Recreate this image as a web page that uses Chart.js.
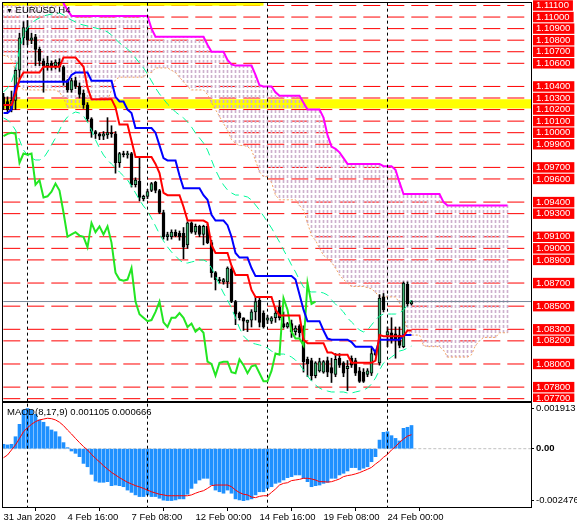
<!DOCTYPE html>
<html>
<head>
<meta charset="utf-8">
<script src="https://cdn.jsdelivr.net/npm/chart.js@4.4.1/dist/chart.umd.min.js"></script>
<style>
  body { margin: 0; background: #fff; width: 577px; height: 529px; overflow: hidden; position: relative;
         font-family: 'Liberation Sans', Arial, sans-serif; }
  canvas { position: absolute; left: 0; }
  #mainChart { top: 0; }
  #macdChart { top: 401px; }
  .lbl { position: absolute; font-size: 9.5px; line-height: 11px; color: #000; white-space: nowrap; }
</style>
</head>
<body>
<canvas id="mainChart" width="577" height="402"></canvas>
<canvas id="macdChart" width="577" height="128"></canvas>
<div class="lbl" style="left:6px;top:3.5px"><span style="font-size:7px">&#9660;</span>&nbsp;EURUSD,H4</div>
<div class="lbl" style="left:7px;top:406px">MACD(8,17,9) 0.001105 0.000666</div>
<script>
// H4 bars, 31 Jan 2020 00:00 .. 24 Feb 2020 (bar index = x)
const opens = [
  1.1031, 1.1027, 1.1020, 1.1028, 1.1054, 1.1082, 1.1091, 1.1080, 1.1083, 1.1072,
  1.1062, 1.1058, 1.1060, 1.1058, 1.1061, 1.1057, 1.1045, 1.1037, 1.1045, 1.1040,
  1.1034, 1.1024, 1.1012, 1.1001, 1.0999, 1.0997, 1.0998, 1.1000, 1.0999, 1.0974,
  1.0982, 1.0981, 1.0982, 1.0955, 1.0958, 1.0943, 1.0945, 1.0950, 1.0957, 1.0950,
  1.0931, 1.0910, 1.0910, 1.0914, 1.0913, 1.0913, 1.0903, 1.0922, 1.0914, 1.0919,
  1.0912, 1.0919, 1.0905, 1.0879, 1.0873, 1.0871, 1.0871, 1.0882, 1.0854, 1.0844,
  1.0840, 1.0836, 1.0838, 1.0845, 1.0855, 1.0844, 1.0838, 1.0837, 1.0840, 1.0849,
  1.0835, 1.0832, 1.0835, 1.0828, 1.0833, 1.0827, 1.0804, 1.0803, 1.0790, 1.0794,
  1.0793, 1.0803, 1.0797, 1.0791, 1.0805, 1.0801, 1.0796, 1.0805, 1.0803, 1.0794,
  1.0793, 1.0791, 1.0792, 1.0810, 1.0801, 1.0858, 1.0825, 1.0827, 1.0826, 1.0825,
  1.0815, 1.0869, 1.0852
];
const highs = [
  1.1034, 1.1031, 1.1036, 1.1056, 1.1086, 1.1096, 1.1097, 1.1086, 1.1085, 1.1074,
  1.1064, 1.1066, 1.1062, 1.1063, 1.1064, 1.1058, 1.1046, 1.1047, 1.1048, 1.1043,
  1.1037, 1.1026, 1.1013, 1.1002, 1.1000, 1.1001, 1.1013, 1.1006, 1.1001, 1.0983,
  1.0984, 1.0984, 1.0983, 1.0961, 1.0979, 1.0946, 1.0951, 1.0957, 1.0958, 1.0951,
  1.0933, 1.0914, 1.0916, 1.0916, 1.0915, 1.0918, 1.0923, 1.0923, 1.0921, 1.0920,
  1.0920, 1.0921, 1.0907, 1.0880, 1.0875, 1.0874, 1.0884, 1.0884, 1.0855, 1.0845,
  1.0840, 1.0838, 1.0847, 1.0858, 1.0857, 1.0846, 1.0842, 1.0841, 1.0849, 1.0855,
  1.0845, 1.0836, 1.0838, 1.0833, 1.0834, 1.0833, 1.0806, 1.0805, 1.0802, 1.0805,
  1.0803, 1.0806, 1.0805, 1.0809, 1.0809, 1.0802, 1.0803, 1.0807, 1.0805, 1.0797,
  1.0796, 1.0796, 1.0814, 1.0812, 1.0860, 1.0861, 1.0832, 1.0840, 1.0832, 1.0832,
  1.0871, 1.0871, 1.0855
];
const lows = [
  1.1020, 1.1018, 1.1018, 1.1020, 1.1046, 1.1076, 1.1076, 1.1077, 1.1058, 1.1058,
  1.1035, 1.1054, 1.1054, 1.1055, 1.1053, 1.1041, 1.1035, 1.1035, 1.1038, 1.1030,
  1.1021, 1.1010, 1.0996, 1.0995, 1.0994, 1.0994, 1.0995, 1.0996, 1.0965, 1.0970,
  1.0979, 1.0978, 1.0953, 1.0953, 1.0941, 1.0941, 1.0943, 1.0949, 1.0948, 1.0930,
  1.0908, 1.0907, 1.0908, 1.0910, 1.0907, 1.0891, 1.0900, 1.0913, 1.0912, 1.0910,
  1.0903, 1.0904, 1.0875, 1.0864, 1.0870, 1.0869, 1.0866, 1.0853, 1.0834, 1.0838,
  1.0829, 1.0828, 1.0832, 1.0838, 1.0832, 1.0831, 1.0835, 1.0835, 1.0836, 1.0838,
  1.0831, 1.0831, 1.0823, 1.0825, 1.0823, 1.0793, 1.0789, 1.0786, 1.0788, 1.0793,
  1.0792, 1.0789, 1.0784, 1.0789, 1.0797, 1.0789, 1.0777, 1.0797, 1.0790, 1.0784,
  1.0784, 1.0789, 1.0790, 1.0807, 1.0799, 1.0845, 1.0815, 1.0818, 1.0805, 1.0814,
  1.0814, 1.0850, 1.0851
];
const closes = [
  1.1024, 1.1020, 1.1028, 1.1054, 1.1082, 1.1091, 1.1080, 1.1082, 1.1072, 1.1062,
  1.1058, 1.1060, 1.1058, 1.1061, 1.1057, 1.1044, 1.1037, 1.1045, 1.1040, 1.1033,
  1.1024, 1.1012, 1.1001, 1.0999, 1.0997, 1.0999, 1.1000, 1.0999, 1.0974, 1.0982,
  1.0981, 1.0982, 1.0955, 1.0959, 1.0944, 1.0945, 1.0949, 1.0956, 1.0950, 1.0931,
  1.0910, 1.0912, 1.0914, 1.0911, 1.0910, 1.0901, 1.0922, 1.0914, 1.0919, 1.0912,
  1.0919, 1.0905, 1.0879, 1.0873, 1.0872, 1.0873, 1.0883, 1.0854, 1.0843, 1.0840,
  1.0837, 1.0838, 1.0845, 1.0854, 1.0836, 1.0832, 1.0840, 1.0840, 1.0844, 1.0840,
  1.0832, 1.0835, 1.0828, 1.0831, 1.0827, 1.0802, 1.0800, 1.0790, 1.0801, 1.0802,
  1.0802, 1.0793, 1.0792, 1.0804, 1.0799, 1.0792, 1.0798, 1.0799, 1.0792, 1.0785,
  1.0785, 1.0794, 1.0809, 1.0808, 1.0857, 1.0847, 1.0828, 1.0822, 1.0822, 1.0816,
  1.0870, 1.0852, 1.0854
];

// Ichimoku
const tenkan = [
  1.1024, 1.1024, 1.1024, 1.1034, 1.1046, 1.1052, 1.1052, 1.1052, 1.1052, 1.1052,
  1.1057, 1.1057, 1.1057, 1.1057, 1.1057, 1.1065, 1.1065, 1.1065, 1.1065, 1.1061,
  1.1057, 1.1039, 1.1029, 1.1029, 1.1029, 1.1029, 1.1029, 1.1029, 1.1022, 1.1007,
  1.1007, 1.1007, 1.0993, 1.0979, 1.0979, 1.0979, 1.0979, 1.0979, 1.0973, 1.0965,
  1.0948, 1.0946, 1.0946, 1.0946, 1.0946, 1.0936, 1.0924, 1.0924, 1.0924, 1.0924,
  1.0924, 1.0922, 1.0903, 1.0896, 1.0896, 1.0896, 1.0896, 1.0885, 1.0877, 1.0877,
  1.0877, 1.0877, 1.0864, 1.0858, 1.0858, 1.0858, 1.0858, 1.0858, 1.0847, 1.0842,
  1.0842, 1.0842, 1.0842, 1.0842, 1.0842, 1.0821, 1.0818, 1.0818, 1.0818, 1.0818,
  1.0818, 1.0810, 1.0810, 1.0808, 1.0808, 1.0808, 1.0808, 1.0801, 1.0801, 1.0801,
  1.0801, 1.0801, 1.0801, 1.0803, 1.0825, 1.0824, 1.0824, 1.0824, 1.0824, 1.0824,
  1.0824, 1.0829, 1.0829
];
const kijun = [
  1.1017, 1.1017, 1.1020, 1.1040, 1.1044, 1.1044, 1.1044, 1.1044, 1.1044, 1.1044,
  1.1044, 1.1044, 1.1044, 1.1044, 1.1044, 1.1044, 1.1044, 1.1050, 1.1052, 1.1052,
  1.1052, 1.1052, 1.1045, 1.1045, 1.1045, 1.1045, 1.1045, 1.1045, 1.1031, 1.1027,
  1.1027, 1.1020, 1.1017, 1.1004, 1.1004, 1.1004, 1.1004, 1.1004, 1.1000, 1.0989,
  1.0978, 1.0976, 1.0976, 1.0976, 1.0963, 1.0952, 1.0952, 1.0952, 1.0952, 1.0952,
  1.0946, 1.0942, 1.0929, 1.0924, 1.0924, 1.0924, 1.0920, 1.0910, 1.0896, 1.0892,
  1.0892, 1.0892, 1.0883, 1.0876, 1.0876, 1.0876, 1.0876, 1.0876, 1.0876, 1.0876,
  1.0876, 1.0876, 1.0876, 1.0873, 1.0860, 1.0847, 1.0837, 1.0837, 1.0837, 1.0837,
  1.0829, 1.0822, 1.0821, 1.0821, 1.0821, 1.0821, 1.0821, 1.0819, 1.0815, 1.0815,
  1.0815, 1.0815, 1.0815, 1.0810, 1.0821, 1.0821, 1.0821, 1.0821, 1.0821, 1.0821,
  1.0825, 1.0825, 1.0825
];
// cloud runs 24 bars past the last candle
const spanA = [
  1.1067, 1.1066, 1.1063, 1.1054, 1.1041, 1.1037, 1.1037, 1.1037, 1.1037, 1.1037,
  1.1037, 1.1037, 1.1037, 1.1037, 1.1035, 1.1030, 1.1022, 1.1022, 1.1022, 1.1022,
  1.1022, 1.1028, 1.1028, 1.1028, 1.1028, 1.1028, 1.1028, 1.1037, 1.1046, 1.1048,
  1.1048, 1.1048, 1.1048, 1.1048, 1.1048, 1.1048, 1.1052, 1.1052, 1.1056, 1.1056,
  1.1056, 1.1056, 1.1054, 1.1052, 1.1048, 1.1044, 1.1040, 1.1037, 1.1037, 1.1037,
  1.1037, 1.1033, 1.1026, 1.1020, 1.1014, 1.1008, 1.1002, 1.0994, 1.0991, 1.0989,
  1.0989, 1.0988, 1.0985, 1.0976, 1.0966, 1.0962, 1.0962, 1.0957, 1.0946, 1.0942,
  1.0942, 1.0942, 1.0942, 1.0942, 1.0937, 1.0933, 1.0922, 1.0911, 1.0907, 1.0900,
  1.0894, 1.0891, 1.0888, 1.0883, 1.0877, 1.0873, 1.0870, 1.0867, 1.0867, 1.0867,
  1.0867, 1.0866, 1.0865, 1.0862, 1.0858, 1.0858, 1.0858, 1.0858, 1.0858, 1.0853,
  1.0842, 1.0829, 1.0825, 1.0825, 1.0825, 1.0816, 1.0815, 1.0815, 1.0815, 1.0815,
  1.0812, 1.0806, 1.0806, 1.0806, 1.0806, 1.0806, 1.0806, 1.0808, 1.0816, 1.0820,
  1.0823, 1.0823, 1.0823, 1.0823, 1.0827, 1.0827, 1.0827
];
const spanB = [
  1.1130, 1.1130, 1.1130, 1.1130, 1.1130, 1.1130, 1.1130, 1.1130, 1.1130, 1.1130,
  1.1130, 1.1130, 1.1130, 1.1130, 1.1130, 1.1112, 1.1106, 1.1101, 1.1101, 1.1101,
  1.1101, 1.1101, 1.1101, 1.1101, 1.1101, 1.1101, 1.1101, 1.1101, 1.1101, 1.1101,
  1.1101, 1.1101, 1.1101, 1.1101, 1.1101, 1.1101, 1.1101, 1.1090, 1.1083, 1.1083,
  1.1083, 1.1083, 1.1083, 1.1083, 1.1083, 1.1083, 1.1083, 1.1083, 1.1083, 1.1083,
  1.1083, 1.1076, 1.1070, 1.1070, 1.1070, 1.1070, 1.1063, 1.1059, 1.1058, 1.1058,
  1.1058, 1.1058, 1.1058, 1.1050, 1.1041, 1.1040, 1.1040, 1.1040, 1.1035, 1.1032,
  1.1032, 1.1032, 1.1032, 1.1032, 1.1032, 1.1026, 1.1020, 1.1020, 1.1020, 1.1020,
  1.1013, 1.0998, 1.0988, 1.0986, 1.0983, 1.0978, 1.0973, 1.0973, 1.0973, 1.0973,
  1.0973, 1.0973, 1.0973, 1.0973, 1.0973, 1.0971, 1.0971, 1.0971, 1.0968, 1.0957,
  1.0947, 1.0947, 1.0947, 1.0947, 1.0947, 1.0947, 1.0947, 1.0947, 1.0947, 1.0947,
  1.0940, 1.0937, 1.0937, 1.0937, 1.0937, 1.0937, 1.0937, 1.0937, 1.0937, 1.0937,
  1.0937, 1.0937, 1.0937, 1.0937, 1.0937, 1.0937, 1.0937
];
const chikouShift = 24; // lagging line = close drawn 24 bars back

// Bollinger bands
const bandUpper = [
  1.10352, 1.10387, 1.10438, 1.10542, 1.10715, 1.10845, 1.10905, 1.10940, 1.10975, 1.10992,
  1.11009, 1.11018, 1.11026, 1.11026, 1.11035, 1.11018, 1.10992, 1.10975, 1.10957, 1.10940,
  1.10931, 1.10923, 1.10914, 1.10905, 1.10897, 1.10888, 1.10871, 1.10845, 1.10810, 1.10776,
  1.10750, 1.10724, 1.10689, 1.10646, 1.10603, 1.10560, 1.10508, 1.10447, 1.10387, 1.10335,
  1.10291, 1.10248, 1.10214, 1.10179, 1.10153, 1.10127, 1.10093, 1.10049, 1.09997, 1.09954,
  1.09911, 1.09850, 1.09764, 1.09677, 1.09608, 1.09548, 1.09505, 1.09479, 1.09461, 1.09461,
  1.09453, 1.09444, 1.09418, 1.09375, 1.09332, 1.09280, 1.09228, 1.09176, 1.09115, 1.09055,
  1.08986, 1.08925, 1.08856, 1.08796, 1.08726, 1.08666, 1.08631, 1.08623, 1.08623, 1.08623,
  1.08614, 1.08597, 1.08553, 1.08519, 1.08484, 1.08450, 1.08398, 1.08363, 1.08329, 1.08294,
  1.08277, 1.08294, 1.08337, 1.08380, 1.08415, 1.08432, 1.08432, 1.08432, 1.08432, 1.08441,
  1.08467, 1.08510, 1.08553
];
const bandLower = [
  1.10127, 1.10110, 1.10075, 1.10023, 1.09937, 1.09850, 1.09807, 1.09781, 1.09764, 1.09764,
  1.09781, 1.09833, 1.09894, 1.09954, 1.10023, 1.10093, 1.10136, 1.10162, 1.10179, 1.10170,
  1.10144, 1.10093, 1.10023, 1.09937, 1.09868, 1.09807, 1.09764, 1.09729, 1.09695, 1.09660,
  1.09626, 1.09591, 1.09539, 1.09479, 1.09418, 1.09366, 1.09323, 1.09262, 1.09193, 1.09124,
  1.09064, 1.09012, 1.08968, 1.08934, 1.08899, 1.08873, 1.08873, 1.08882, 1.08891, 1.08899,
  1.08899, 1.08882, 1.08830, 1.08761, 1.08683, 1.08614, 1.08553, 1.08484, 1.08398, 1.08311,
  1.08242, 1.08207, 1.08181, 1.08173, 1.08164, 1.08155, 1.08138, 1.08112, 1.08095, 1.08086,
  1.08086, 1.08078, 1.08060, 1.08034, 1.07999, 1.07948, 1.07896, 1.07853, 1.07818, 1.07792,
  1.07775, 1.07766, 1.07758, 1.07758, 1.07758, 1.07758, 1.07749, 1.07749, 1.07758, 1.07766,
  1.07775, 1.07792, 1.07827, 1.07879, 1.07948, 1.08008, 1.08034, 1.08060, 1.08086, 1.08112,
  1.08121, 1.08138, 1.08155
];

// MACD(8,17,9)
const macdMain = [
  0.00021, 0.00018, 0.00021, 0.00057, 0.00116, 0.00184, 0.001913, 0.00184, 0.00164, 0.00137,
  0.00126, 0.00105, 0.00089, 0.00081, 0.00057, 0.00029, 0.00005, -0.00011, -0.00022, -0.00038,
  -0.0007, -0.00086, -0.00122, -0.00154, -0.0016, -0.0016, -0.00157, -0.00176, -0.00173, -0.00176,
  -0.00181, -0.00197, -0.00208, -0.0022, -0.00228, -0.00228, -0.0022, -0.00228, -0.00228, -0.00236,
  -0.00245, -0.00247, -0.00247, -0.00244, -0.00239, -0.00239, -0.00217, -0.00189, -0.00165, -0.00149,
  -0.00141, -0.00141, -0.00173, -0.00197, -0.00205, -0.00212, -0.00197, -0.00212, -0.00239, -0.00244,
  -0.002476, -0.00244, -0.00239, -0.0022, -0.00205, -0.00205, -0.00189, -0.00181, -0.00165, -0.0016,
  -0.00149, -0.00138, -0.00133, -0.00125, -0.00125, -0.00141, -0.00157, -0.00181, -0.00176, -0.00173,
  -0.00165, -0.0016, -0.00141, -0.00141, -0.00125, -0.00117, -0.00106, -0.0009, -0.0009, -0.00101,
  -0.00093, -0.00086, -0.00062, -0.00038, 0.00041, 0.00078, 0.00081, 0.00062, 0.00049, 0.00037,
  0.00097, 0.00102, 0.001105
];
const macdSignal = [
  -0.00043, -0.0003, -0.00006, 0.00018, 0.00049, 0.00081, 0.001, 0.00116, 0.00129, 0.00137,
  0.00141, 0.00145, 0.00143, 0.00137, 0.00126, 0.0011, 0.00089, 0.0007, 0.00049, 0.00029,
  0.0001, -0.00006, -0.00027, -0.00046, -0.00063, -0.00081, -0.00097, -0.00113, -0.00125, -0.00138,
  -0.00149, -0.0016, -0.00168, -0.00176, -0.00182, -0.00189, -0.00197, -0.00205, -0.00211, -0.00217,
  -0.0022, -0.00224, -0.00224, -0.00224, -0.00224, -0.00224, -0.00224, -0.0022, -0.00212, -0.00205,
  -0.002, -0.00189, -0.00176, -0.00173, -0.00173, -0.00173, -0.00173, -0.00181, -0.00197, -0.00209,
  -0.00217, -0.0022, -0.0023, -0.00233, -0.00227, -0.00224, -0.00224, -0.00208, -0.00192, -0.00173,
  -0.00165, -0.00162, -0.00152, -0.00149, -0.00146, -0.00141, -0.00141, -0.00144, -0.00149, -0.00157,
  -0.00157, -0.00159, -0.00157, -0.00151, -0.00144, -0.00133, -0.00128, -0.00125, -0.0012, -0.00114,
  -0.00106, -0.00098, -0.00089, -0.00073, -0.00059, -0.00041, -0.00027, -0.00006, 0.0001, 0.0003,
  0.00046, 0.0006, 0.000666
];

// horizontal levels drawn on the chart, also the labelled prices on the right
const priceLevels = [
  1.1110, 1.1100, 1.1090, 1.1080, 1.1070, 1.1060, 1.1040, 1.1030, 1.1020, 1.1010,
  1.1000, 1.0990, 1.0970, 1.0960, 1.0940, 1.0930, 1.0910, 1.0900, 1.0890, 1.0870,
  1.0850, 1.0830, 1.0820, 1.0800, 1.0780, 1.0770
];
const bandZone = [1.1021, 1.1029];          // yellow zone
const topLine = { level: 1.1111, toBar: 65 }; // yellow line at the top
const separatorBars = [6, 36, 66, 96];
const xTickBars = [0, 16, 32, 48, 64, 80, 96];
const xTickLabels = ['31 Jan 2020', '4 Feb 16:00', '7 Feb 08:00', '12 Feb 00:00',
                     '14 Feb 16:00', '19 Feb 08:00', '24 Feb 00:00'];
const macdTicks = [0.001913, 0, -0.002476];
const macdTickLabels = ['0.001913', '0.00', '-0.002476'];

const FONT = "'Liberation Sans', Arial, sans-serif";
Chart.defaults.font.family = FONT;
Chart.defaults.font.size = 9.5;
Chart.defaults.color = '#000';

const X_MIN = -0.125, X_MAX = 131.875; // 4 px per bar
const LEFT = -0.05, RIGHT = 140;

const pts = (arr, start = 0) => arr.map((v, i) => ({ x: i + start, y: v }));
const hline = (y) => [{ x: LEFT, y }, { x: RIGHT, y }];

function lineSet(data, color, width, dash, order, extra) {
  return Object.assign({
    type: 'line', data, borderColor: color, borderWidth: width,
    borderDash: dash || [], pointRadius: 0, tension: 0, fill: false, order
  }, extra || {});
}

// frame around plot area
const framePlugin = {
  id: 'frame',
  afterDraw(chart) {
    const { ctx, chartArea: a } = chart;
    ctx.save();
    ctx.strokeStyle = '#000';
    ctx.lineWidth = 1;
    ctx.strokeRect(a.left - 0.5, a.top - 0.5, a.right - a.left + 1, a.bottom - a.top + 1);
    ctx.restore();
  }
};

function fitRight(axis) {
  axis.width = 46;
  axis.paddingTop = 0;
  axis.paddingBottom = 0;
}

// dotted hatch for the cloud
const mainCtx = document.getElementById('mainChart').getContext('2d');
const hatchCanvas = document.createElement('canvas');
hatchCanvas.width = 1; hatchCanvas.height = 5;
const hg = hatchCanvas.getContext('2d');
hg.fillStyle = '#cdb0cd';
hg.fillRect(0, 0, 1, 3);
const hatch = mainCtx.createPattern(hatchCanvas, 'repeat');

const lastClose = closes[closes.length - 1];

const mainDatasets = [];
priceLevels.forEach(v => mainDatasets.push(lineSet(hline(v), '#ff0000', 1, [17, 7], 100)));
mainDatasets.push(lineSet(hline(bandZone[1]), 'rgba(0,0,0,0)', 0, null, 95,
  { fill: { value: bandZone[0] }, backgroundColor: '#ffff00' }));
mainDatasets.push(lineSet([{ x: -1, y: topLine.level }, { x: topLine.toBar, y: topLine.level }],
  '#ffff00', 3, null, 94));
mainDatasets.push({
  type: 'bar', data: spanA.map((a, i) => ({ x: i, y: [a, spanB[i]] })),
  backgroundColor: hatch, barThickness: 1, grouped: false, order: 90
});
mainDatasets.push(lineSet(pts(spanA), '#f4a460', 1, [2, 2], 85));
mainDatasets.push(lineSet(pts(spanB), '#ff00ff', 2, null, 84));
separatorBars.forEach(b => mainDatasets.push(
  lineSet([{ x: b, y: 1.07 }, { x: b, y: 1.12 }], '#000', 1, [3, 3], 80)));
mainDatasets.push(lineSet(hline(lastClose), '#778899', 1, null, 78));
mainDatasets.push({
  type: 'bar', data: highs.map((h, i) => ({ x: i, y: [lows[i], h] })),
  backgroundColor: '#000', barThickness: 1, grouped: false, order: 70
});
mainDatasets.push({
  type: 'bar', data: opens.map((o, i) => ({ x: i, y: [o, closes[i]] })),
  backgroundColor: opens.map((o, i) => closes[i] >= o ? '#3cb371' : '#000'),
  borderColor: '#000', borderWidth: 1, borderSkipped: false, minBarLength: 1,
  barThickness: 3, grouped: false, order: 69
});
mainDatasets.push(lineSet(pts(bandUpper), '#00fa9a', 1, [8, 5], 60));
mainDatasets.push(lineSet(pts(bandLower), '#00fa9a', 1, [8, 5], 60));
mainDatasets.push(lineSet(pts(closes.slice(chikouShift)), '#22e622', 2, null, 50));
mainDatasets.push(lineSet(pts(kijun), '#0000ff', 2, null, 45));
mainDatasets.push(lineSet(pts(tenkan), '#ff0000', 2, null, 44));

new Chart(mainCtx, {
  type: 'line',
  data: { datasets: mainDatasets },
  plugins: [framePlugin],
  options: {
    responsive: false, animation: false, events: [],
    layout: { padding: { left: 3, top: 3, right: 0, bottom: 1 } },
    plugins: { legend: { display: false }, tooltip: { enabled: false } },
    scales: {
      x: { type: 'linear', min: X_MIN, max: X_MAX, offset: false, display: false },
      y: {
        type: 'linear', position: 'right', min: 1.07680, max: 1.111215,
        grid: { display: false, drawTicks: false, tickLength: 0 }, border: { display: false },
        afterFit: fitRight,
        afterBuildTicks: (axis) => { axis.ticks = priceLevels.map(v => ({ value: v })); },
        ticks: {
          autoSkip: false, padding: 5, color: '#fff',
          font: { family: FONT, size: 9.5, lineHeight: 1.1 },
          showLabelBackdrop: true, backdropColor: '#ff0000',
          backdropPadding: { top: 0, bottom: 0, left: 3, right: 4 },
          callback: (v) => v.toFixed(5)
        }
      }
    }
  }
});

const macdDatasets = [
  lineSet(hline(0), '#c0c0c0', 1, [3, 2], 40),
  {
    type: 'bar', data: pts(macdMain), backgroundColor: '#1e90ff',
    barThickness: 3, grouped: false, order: 30
  }
];
separatorBars.forEach(b => macdDatasets.push(
  lineSet([{ x: b, y: -0.01 }, { x: b, y: 0.01 }], '#000', 1, [3, 3], 20)));
macdDatasets.push(lineSet(pts(macdSignal), '#ff0000', 1, null, 10));

new Chart(document.getElementById('macdChart'), {
  type: 'line',
  data: { datasets: macdDatasets },
  plugins: [framePlugin],
  options: {
    responsive: false, animation: false, events: [],
    layout: { padding: { left: 3, top: 2, right: 0, bottom: 0 } },
    plugins: { legend: { display: false }, tooltip: { enabled: false } },
    scales: {
      x: {
        type: 'linear', min: X_MIN, max: X_MAX, offset: false,
        border: { display: false },
        grid: { display: true, drawOnChartArea: false, drawTicks: true, tickLength: 4, color: '#000' },
        afterFit: (axis) => { axis.height = 22; axis.paddingLeft = 0; axis.paddingRight = 0; },
        afterBuildTicks: (axis) => { axis.ticks = xTickBars.map(v => ({ value: v })); },
        ticks: {
          autoSkip: false, maxRotation: 0, align: 'start', padding: 1,
          callback: (v) => { const k = xTickBars.indexOf(v); return k >= 0 ? xTickLabels[k] : ''; }
        }
      },
      y: {
        type: 'linear', position: 'right', min: -0.002776, max: 0.002176,
        border: { display: false },
        grid: { display: true, drawOnChartArea: false, drawTicks: true, tickLength: 3, color: '#000' },
        afterFit: fitRight,
        afterBuildTicks: (axis) => { axis.ticks = macdTicks.map(v => ({ value: v })); },
        ticks: {
          autoSkip: false, padding: 2,
          font: (c) => ({ family: FONT, size: 9.5, weight: c.tick && c.tick.value === 0 ? 'bold' : 'normal' }),
          callback: (v) => { const k = macdTicks.indexOf(v); return k >= 0 ? macdTickLabels[k] : ''; }
        }
      }
    }
  }
});
</script>
</body>
</html>
